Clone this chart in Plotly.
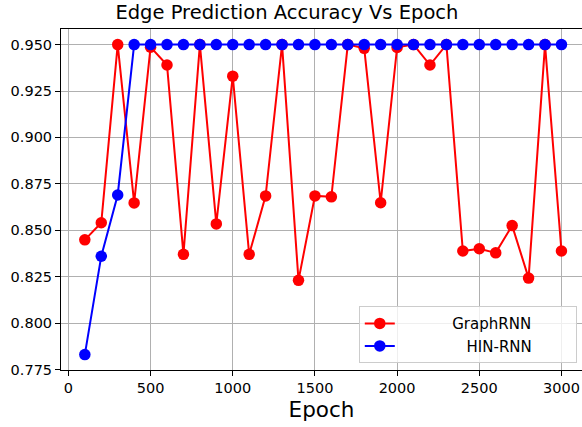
import plotly.graph_objects as go

epochs = [100, 200, 300, 400, 500, 600, 700, 800, 900, 1000,
          1100, 1200, 1300, 1400, 1500, 1600, 1700, 1800, 1900, 2000,
          2100, 2200, 2300, 2400, 2500, 2600, 2700, 2800, 2900, 3000]
graphrnn = [0.8448, 0.854, 0.95, 0.8647, 0.9486, 0.939, 0.837, 0.95, 0.8534, 0.933,
            0.837, 0.8685, 0.95, 0.823, 0.8685, 0.868, 0.95, 0.948, 0.8648, 0.9485,
            0.95, 0.939, 0.95, 0.8388, 0.840, 0.8378, 0.8525, 0.8242, 0.95, 0.8388]
hinrnn = [0.783, 0.836, 0.869] + [0.95] * 27
x_ticks = [0, 500, 1000, 1500, 2000, 2500, 3000]
y_ticks = [0.775, 0.800, 0.825, 0.850, 0.875, 0.900, 0.925, 0.950]

NB = "\u00a0"
FONT = "DejaVu Sans"

fig = go.Figure()
fig.add_trace(go.Scatter(x=epochs, y=graphrnn, mode="lines+markers",
                         name=NB * 11 + "GraphRNN" + NB * 8,
                         line=dict(color="#ff0000", width=2),
                         marker=dict(color="#ff0000", size=11.5)))
fig.add_trace(go.Scatter(x=epochs, y=hinrnn, mode="lines+markers",
                         name=NB * 14 + "HIN-RNN" + NB * 8,
                         line=dict(color="#0000ff", width=2),
                         marker=dict(color="#0000ff", size=11.5)))

fig.update_layout(
    width=582, height=427,
    margin=dict(l=61, r=0, t=29, b=57, autoexpand=False),
    paper_bgcolor="white", plot_bgcolor="white",
    font=dict(family=FONT, color="black", size=14.5),
    title=dict(text="Edge Prediction Accuracy Vs Epoch", x=0.493, xref="container",
               xanchor="center", y=0.988, yref="container", yanchor="top",
               font=dict(size=19.5, family=FONT, color="black")),
    legend=dict(x=0.99, xanchor="right", y=0.02, yanchor="bottom",
                bgcolor="rgba(255,255,255,0.8)", bordercolor="#cccccc", borderwidth=1,
                font=dict(size=15, family=FONT, color="black")),
    showlegend=True,
)
fig.update_xaxes(range=[-45, 3125], tickvals=x_ticks, ticktext=[str(v) for v in x_ticks],
                 showgrid=True, gridcolor="#b0b0b0", gridwidth=1,
                 showline=True, linecolor="black", linewidth=1, mirror=True,
                 ticks="outside", ticklen=5, tickcolor="black", zeroline=False,
                 title=dict(text="Epoch", font=dict(size=21.5, family=FONT), standoff=6),
                 tickfont=dict(size=14.5, family=FONT))
fig.update_yaxes(range=[0.7747, 0.9584], tickvals=y_ticks,
                 ticktext=["%.3f" % v for v in y_ticks],
                 showgrid=True, gridcolor="#b0b0b0", gridwidth=1,
                 showline=True, linecolor="black", linewidth=1,
                 ticks="outside", ticklen=5, tickcolor="black", zeroline=False,
                 tickfont=dict(size=14.5, family=FONT))

fig.write_html("out.html", config={"displayModeBar": False},
               post_script="document.body.style.margin='0';document.body.style.overflow='hidden';")
